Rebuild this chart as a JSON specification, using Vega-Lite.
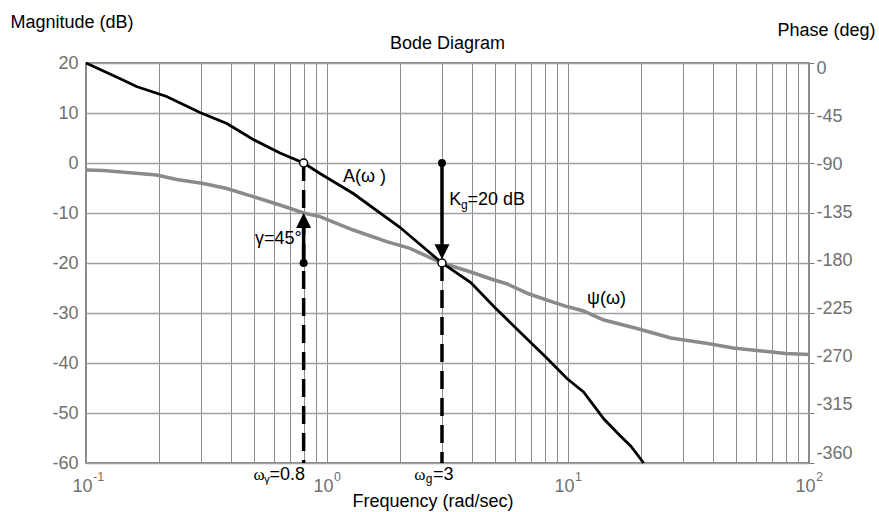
{
  "$schema": "https://vega.github.io/schema/vega-lite/v6.json",
  "width": 723,
  "height": 400,
  "autosize": {"type": "none"},
  "padding": {"left": 86, "top": 63, "right": 70, "bottom": 49},
  "background": "white",
  "config": {
    "view": {"stroke": "#666666", "strokeWidth": 1.5},
    "font": "Liberation Sans",
    "text": {"font": "Liberation Sans", "fontSize": 18, "color": "black", "baseline": "middle"}
  },
  "title": {
    "text": "Bode Diagram",
    "frame": "group",
    "anchor": "middle",
    "baseline": "middle",
    "offset": -30,
    "dy": 19,
    "fontSize": 18,
    "fontWeight": "normal",
    "font": "Liberation Sans",
    "color": "black"
  },
  "datasets": {
    "magnitude": [
      {"w": 0.1, "db": 20}, {"w": 0.138, "db": 16.9}, {"w": 0.162, "db": 15.3},
      {"w": 0.216, "db": 13.3}, {"w": 0.297, "db": 10.1}, {"w": 0.384, "db": 7.9},
      {"w": 0.494, "db": 4.7}, {"w": 0.638, "db": 2.0}, {"w": 0.8, "db": 0},
      {"w": 0.935, "db": -2.1}, {"w": 1.285, "db": -6.1}, {"w": 2.0, "db": -12.8},
      {"w": 3, "db": -20}, {"w": 3.95, "db": -23.9}, {"w": 4.97, "db": -28.9},
      {"w": 6.7, "db": -35.0}, {"w": 8.2, "db": -39.1}, {"w": 9.9, "db": -43.1},
      {"w": 11.6, "db": -45.8}, {"w": 14.1, "db": -51.2}, {"w": 16.5, "db": -54.6},
      {"w": 18.2, "db": -56.6}, {"w": 20.6, "db": -60}
    ],
    "phase": [
      {"w": 0.1, "deg": -96.3}, {"w": 0.118, "deg": -96.8}, {"w": 0.196, "deg": -100.8},
      {"w": 0.238, "deg": -104.9}, {"w": 0.307, "deg": -108.5}, {"w": 0.384, "deg": -113.0},
      {"w": 0.494, "deg": -120.2}, {"w": 0.638, "deg": -127.8}, {"w": 0.8, "deg": -135},
      {"w": 0.935, "deg": -138.2}, {"w": 1.285, "deg": -150.3}, {"w": 1.77, "deg": -160.7},
      {"w": 2.21, "deg": -166.9}, {"w": 3, "deg": -180}, {"w": 3.95, "deg": -188.1},
      {"w": 4.8, "deg": -194.4}, {"w": 5.6, "deg": -198.9}, {"w": 6.9, "deg": -207.9},
      {"w": 8.8, "deg": -215.6}, {"w": 9.9, "deg": -219.2}, {"w": 11.6, "deg": -223.2},
      {"w": 12.8, "deg": -227.3}, {"w": 14.1, "deg": -231.3}, {"w": 19.7, "deg": -239.4},
      {"w": 26.7, "deg": -247.5}, {"w": 38, "deg": -252.5}, {"w": 48.5, "deg": -256.5},
      {"w": 80, "deg": -261.5}, {"w": 100, "deg": -262.4}
    ],
    "dashes": [
      {"w": 0.8, "y1": 0, "y2": -60},
      {"w": 3, "y1": -20, "y2": -60}
    ],
    "shafts": [
      {"w": 0.8, "y1": -20, "y2": -12.8},
      {"w": 3, "y1": 0, "y2": -16.5}
    ],
    "dots": [{"w": 0.8, "db": -20}, {"w": 3, "db": 0}],
    "rings": [{"w": 0.8, "db": 0}, {"w": 3, "db": -20}],
    "decades": [
      {"w": 0.1, "base": "10", "exp": "-1"},
      {"w": 1, "base": "10", "exp": "0"},
      {"w": 10, "base": "10", "exp": "1"},
      {"w": 100, "base": "10", "exp": "2"}
    ]
  },
  "resolve": {"scale": {"y": "independent"}},
  "layer": [
    {
      "data": {"name": "phase"},
      "mark": {"type": "line", "color": "#8a8a8a", "strokeWidth": 3.5},
      "encoding": {
        "x": {
          "field": "w", "type": "quantitative",
          "scale": {"type": "log", "domain": [0.1, 100], "nice": false},
          "axis": {
            "title": "Frequency (rad/sec)",
            "values": [0.1, 0.2, 0.3, 0.4, 0.5, 0.6, 0.7, 0.8, 0.9, 1, 2, 3, 4, 5, 6, 7, 8, 9, 10, 20, 30, 40, 50, 60, 70, 80, 90, 100],
            "grid": true, "gridColor": "#8c8c8c", "gridWidth": 1,
            "ticks": false, "labels": false, "domain": false,
            "titleFont": "Liberation Sans", "titleFontSize": 18, "titleFontWeight": "normal", "titleColor": "black",
            "titleX": 346.5, "titleY": 38.7, "titleBaseline": "middle", "titleAlign": "center"
          }
        },
        "y": {
          "field": "deg", "type": "quantitative",
          "scale": {"domain": [-360, 0], "nice": false, "zero": false},
          "axis": {
            "orient": "right",
            "title": "Phase (deg)",
            "values": [0, -45, -90, -135, -180, -225, -270, -315, -360],
            "grid": false, "domain": false,
            "ticks": true, "tickSize": 5, "tickColor": "#777777", "tickWidth": 1,
            "labelPadding": 2, "labelColor": "#707070", "labelFontSize": 18, "labelFont": "Liberation Sans",
            "labelAlign": "left", "labelBaseline": "middle",
            "labelExpr": "datum.value == 0 ? '\u2002' + '0' : '' + datum.value",
            "labelOffset": {"expr": "5 + datum.value / 24"},
            "titleAngle": 0, "titleAlign": "right", "titleBaseline": "middle",
            "titleX": 66, "titleY": -33,
            "titleFont": "Liberation Sans", "titleFontSize": 18, "titleFontWeight": "normal", "titleColor": "black"
          }
        }
      }
    },
    {
      "layer": [
        {
          "data": {"name": "dashes"},
          "mark": {"type": "rule", "color": "black", "strokeWidth": 3.5, "strokeDash": [18, 9]},
          "encoding": {
            "x": {"field": "w", "type": "quantitative", "scale": {"type": "log", "domain": [0.1, 100], "nice": false}},
            "y": {
              "field": "y1", "type": "quantitative",
              "scale": {"domain": [-60, 20], "nice": false, "zero": false},
              "axis": {
                "orient": "left",
                "title": "Magnitude (dB)",
                "values": [20, 10, 0, -10, -20, -30, -40, -50, -60],
                "grid": true, "gridColor": "#a0a0a0", "gridWidth": 1.5,
                "ticks": false, "domain": false,
                "labelPadding": 8, "labelColor": "#707070", "labelFontSize": 18, "labelFont": "Liberation Sans",
                "labelExpr": "'' + datum.value",
                "titleAngle": 0, "titleAlign": "left", "titleBaseline": "middle",
                "titleX": -76, "titleY": -41,
                "titleFont": "Liberation Sans", "titleFontSize": 18, "titleFontWeight": "normal", "titleColor": "black"
              }
            },
            "y2": {"field": "y2"}
          }
        },
        {
          "data": {"name": "magnitude"},
          "mark": {"type": "line", "color": "black", "strokeWidth": 2.8},
          "encoding": {
            "x": {"field": "w", "type": "quantitative", "scale": {"type": "log", "domain": [0.1, 100], "nice": false}},
            "y": {"field": "db", "type": "quantitative", "scale": {"domain": [-60, 20], "nice": false, "zero": false}}
          }
        },
        {
          "data": {"name": "shafts"},
          "mark": {"type": "rule", "color": "black", "strokeWidth": 3.5},
          "encoding": {
            "x": {"field": "w", "type": "quantitative"},
            "y": {"field": "y1", "type": "quantitative"},
            "y2": {"field": "y2"}
          }
        },
        {
          "data": {"values": [{"w": 0.8, "db": -10}]},
          "mark": {"type": "point", "filled": true, "shape": "M0,0L-1,2L1,2Z", "size": 225, "color": "black", "opacity": 1},
          "encoding": {
            "x": {"field": "w", "type": "quantitative"},
            "y": {"field": "db", "type": "quantitative"}
          }
        },
        {
          "data": {"values": [{"w": 3, "db": -20}]},
          "mark": {"type": "point", "filled": true, "shape": "M0,-0.5L-1,-2.5L1,-2.5Z", "size": 225, "color": "black", "opacity": 1},
          "encoding": {
            "x": {"field": "w", "type": "quantitative"},
            "y": {"field": "db", "type": "quantitative"}
          }
        },
        {
          "data": {"name": "dots"},
          "mark": {"type": "point", "shape": "circle", "filled": true, "size": 64, "color": "black", "opacity": 1},
          "encoding": {
            "x": {"field": "w", "type": "quantitative"},
            "y": {"field": "db", "type": "quantitative"}
          }
        },
        {
          "data": {"name": "rings"},
          "mark": {"type": "point", "shape": "circle", "size": 64, "fill": "white", "stroke": "black", "strokeWidth": 1.5, "opacity": 1, "fillOpacity": 1},
          "encoding": {
            "x": {"field": "w", "type": "quantitative"},
            "y": {"field": "db", "type": "quantitative"}
          }
        },
        {
          "data": {"name": "decades"},
          "mark": {"type": "text", "align": "right", "dx": 6.5, "dy": 24, "fontSize": 18, "color": "#707070"},
          "encoding": {
            "x": {"field": "w", "type": "quantitative"},
            "y": {"datum": -60, "type": "quantitative"},
            "text": {"field": "base"}
          }
        },
        {
          "data": {"name": "decades"},
          "mark": {"type": "text", "align": "left", "dx": 7, "dy": 13.5, "fontSize": 12.5, "color": "#707070"},
          "encoding": {
            "x": {"field": "w", "type": "quantitative"},
            "y": {"datum": -60, "type": "quantitative"},
            "text": {"field": "exp"}
          }
        },
        {
          "data": {"values": [{"w": 1.165, "db": -2.7, "t": "A(ω )"}, {"w": 12, "db": -27.1, "t": "ψ(ω)"}]},
          "mark": {"type": "text", "align": "left"},
          "encoding": {
            "x": {"field": "w", "type": "quantitative"},
            "y": {"field": "db", "type": "quantitative"},
            "text": {"field": "t"}
          }
        },
        {
          "data": {"values": [{"w": 0.8, "db": -15.1, "t": "γ=45°"}]},
          "mark": {"type": "text", "align": "right", "dx": -2},
          "encoding": {
            "x": {"field": "w", "type": "quantitative"},
            "y": {"field": "db", "type": "quantitative"},
            "text": {"field": "t"}
          }
        },
        {
          "data": {"values": [{"w": 3, "db": -7.3, "t": "K"}]},
          "mark": {"type": "text", "align": "left", "dx": 7.3},
          "encoding": {
            "x": {"field": "w", "type": "quantitative"},
            "y": {"field": "db", "type": "quantitative"},
            "text": {"field": "t"}
          }
        },
        {
          "data": {"values": [{"w": 3, "db": -7.3, "t": "g"}]},
          "mark": {"type": "text", "align": "left", "dx": 19, "dy": 5, "fontSize": 12},
          "encoding": {
            "x": {"field": "w", "type": "quantitative"},
            "y": {"field": "db", "type": "quantitative"},
            "text": {"field": "t"}
          }
        },
        {
          "data": {"values": [{"w": 3, "db": -7.3, "t": "=20 dB"}]},
          "mark": {"type": "text", "align": "left", "dx": 25.5},
          "encoding": {
            "x": {"field": "w", "type": "quantitative"},
            "y": {"field": "db", "type": "quantitative"},
            "text": {"field": "t"}
          }
        },
        {
          "data": {"values": [{"w": 0.8, "db": -60, "t": "=0.8"}]},
          "mark": {"type": "text", "align": "right", "dx": 1.5, "dy": 12},
          "encoding": {
            "x": {"field": "w", "type": "quantitative"},
            "y": {"field": "db", "type": "quantitative"},
            "text": {"field": "t"}
          }
        },
        {
          "data": {"values": [{"w": 0.8, "db": -60, "t": "γ"}]},
          "mark": {"type": "text", "align": "right", "dx": -34, "dy": 17, "fontSize": 11},
          "encoding": {
            "x": {"field": "w", "type": "quantitative"},
            "y": {"field": "db", "type": "quantitative"},
            "text": {"field": "t"}
          }
        },
        {
          "data": {"values": [{"w": 0.8, "db": -60, "t": "ω"}]},
          "mark": {"type": "text", "align": "right", "dx": -39, "dy": 12, "fontSize": 17, "font": "Liberation Serif"},
          "encoding": {
            "x": {"field": "w", "type": "quantitative"},
            "y": {"field": "db", "type": "quantitative"},
            "text": {"field": "t"}
          }
        },
        {
          "data": {"values": [{"w": 3, "db": -60, "t": "=3"}]},
          "mark": {"type": "text", "align": "left", "dx": -9, "dy": 12},
          "encoding": {
            "x": {"field": "w", "type": "quantitative"},
            "y": {"field": "db", "type": "quantitative"},
            "text": {"field": "t"}
          }
        },
        {
          "data": {"values": [{"w": 3, "db": -60, "t": "g"}]},
          "mark": {"type": "text", "align": "right", "dx": -9.5, "dy": 16, "fontSize": 12},
          "encoding": {
            "x": {"field": "w", "type": "quantitative"},
            "y": {"field": "db", "type": "quantitative"},
            "text": {"field": "t"}
          }
        },
        {
          "data": {"values": [{"w": 3, "db": -60, "t": "ω"}]},
          "mark": {"type": "text", "align": "right", "dx": -16.5, "dy": 12, "fontSize": 17, "font": "Liberation Serif"},
          "encoding": {
            "x": {"field": "w", "type": "quantitative"},
            "y": {"field": "db", "type": "quantitative"},
            "text": {"field": "t"}
          }
        }
      ]
    }
  ]
}
